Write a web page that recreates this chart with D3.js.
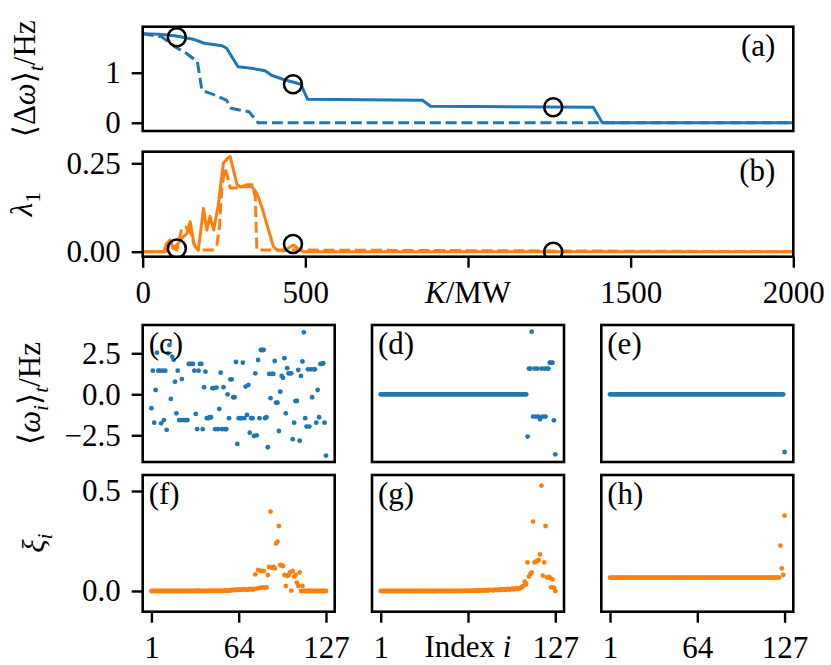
<!DOCTYPE html>
<html>
<head>
<meta charset="utf-8">
<script src="https://cdn.jsdelivr.net/npm/d3@7"></script>
<style>
body { margin: 0; background: #fff; }
svg { display: block; }
</style>
</head>
<body>
<svg width="831" height="665"></svg>
<script>
var blue = "#1f77b4";
var orange = "#ff7f0e";
var font = "'Liberation Serif', 'DejaVu Serif', serif";
var fs = 31;

// (a) <dw>_t against K, solid and dashed runs
var kOmega = [0, 50, 99, 155, 189, 244, 258, 293, 334, 376, 396, 431, 486, 507, 860, 885, 1385, 1413, 2000];
var omegaSolid = [1.78, 1.77, 1.74, 1.67, 1.59, 1.54, 1.49, 1.12, 1.09, 1.04, 0.95, 0.87, 0.77, 0.47, 0.45, 0.33, 0.31, 0, 0];
var kOmegaDash = [0, 58, 99, 134, 168, 182, 224, 258, 272, 327, 355, 2000];
var omegaDash = [1.78, 1.72, 1.52, 1.39, 1.22, 0.65, 0.55, 0.45, 0.29, 0.22, 0, 0];

// (b) lambda_1 against K
var kLambda = [0, 64, 74, 84, 94, 105, 120, 136, 146, 158, 171, 187, 197, 207, 218, 232, 248, 261, 269, 290, 300, 336, 351, 366, 402, 413, 433, 464, 479, 494, 2000];
var lambdaSolid = [0, 0, 0.024, 0.033, 0.010, 0.019, 0.038, 0.052, 0.085, 0.020, 0.004, 0.123, 0.061, 0.100, 0.061, 0.130, 0.250, 0.264, 0.269, 0.189, 0.184, 0.184, 0.165, 0.127, 0.014, 0.005, 0.002, 0.019, 0.007, 0, 0];
var kLambdaDash = [0, 70, 80, 95, 105, 120, 131, 146, 161, 176, 192, 215, 228, 236, 243, 253, 261, 269, 290, 320, 336, 346, 351, 2000];
var lambdaDash = [0, 0, 0.014, 0.010, 0.005, 0.066, 0.070, 0.057, 0.014, 0.005, 0.005, 0.005, 0.019, 0.070, 0.180, 0.236, 0.212, 0.180, 0.180, 0.189, 0.189, 0.156, 0.005, 0];

// the three K values shown below
var kMark = [105, 462, 1262];
var omegaMark = [1.71, 0.77, 0.31];
var lambdaMark = [0.009, 0.022, 0];

var kTicks = [0, 500, 1000, 1500, 2000];
var idxTicks = [1, 64, 127];

// (c)(d)(e) <w_i>_t per node
var omegaC = [
  -0.85, 1.44, -1.73, 0.26, 2.54, 1.44, 1.44, -1.77, 1.44, -1.57,
  1.44, -2.17, 2.50, 3.00, -0.28, 2.30, 2.10, 0.77, -1.16, 1.44,
  -1.57, -1.57, 0.93, -1.57, -1.57, -1.57, -1.57, 1.85, 1.85, 1.85,
  1.85, 1.44, -1.20, -2.13, 1.44, 1.85, 1.85, -2.13, 0.43, 1.38,
  -1.46, -1.46, -1.40, -1.40, 0.37, 0.37, -2.13, 0.41, -2.13, -0.89,
  1.32, -2.13, 0.43, -2.13, -2.13, 0.00, -1.46, 0.91, 0.91, -0.18,
  -0.18, 1.97, -3.03, -1.46, -1.46, -1.46, 1.93, -1.46, 0.47, -1.26,
  0.57, -2.34, -1.46, -1.46, -2.54, 1.28, -2.50, 2.09, -1.46, 2.70,
  2.70, 2.70, -1.46, -1.40, -3.23, 1.24, -0.24, 1.24, 1.24, 2.03,
  -0.51, -0.51, -2.24, 0.16, 1.12, 1.00, 2.20, -1.16, 1.59, 1.28,
  1.28, 1.28, -2.74, -1.73, -0.41, -0.41, 1.48, -2.83, 1.12, 2.00,
  3.78, -1.46, -1.97, 1.52, -1.97, 1.52, -0.18, 1.52, 1.52, -1.73,
  0.26, -1.40, 1.85, 1.85, 1.90, -1.73, -3.74
];
var omegaD = [
  0, 0, 0, 0, 0, 0, 0, 0, 0, 0, 0, 0, 0, 0, 0, 0, 0, 0, 0, 0,
  0, 0, 0, 0, 0, 0, 0, 0, 0, 0, 0, 0, 0, 0, 0, 0, 0, 0, 0, 0,
  0, 0, 0, 0, 0, 0, 0, 0, 0, 0, 0, 0, 0, 0, 0, 0, 0, 0, 0, 0,
  0, 0, 0, 0, 0, 0, 0, 0, 0, 0, 0, 0, 0, 0, 0, 0, 0, 0, 0, 0,
  0, 0, 0, 0, 0, 0, 0, 0, 0, 0, 0, 0, 0, 0, 0, 0, 0, 0, 0, 0,
  0, 0, 0, 0, 0, 0,
  -2.58, 1.57, 1.57, 3.82, -1.36, 1.57, -1.36, 1.57, -1.36, -1.52,
  1.57, -1.36, 1.57, -1.36, 1.57, 1.57, 1.93, 1.93, 1.93, -1.59, -3.66
];
var omegaE = [
  0, 0, 0, 0, 0, 0, 0, 0, 0, 0, 0, 0, 0, 0, 0, 0, 0, 0, 0, 0,
  0, 0, 0, 0, 0, 0, 0, 0, 0, 0, 0, 0, 0, 0, 0, 0, 0, 0, 0, 0,
  0, 0, 0, 0, 0, 0, 0, 0, 0, 0, 0, 0, 0, 0, 0, 0, 0, 0, 0, 0,
  0, 0, 0, 0, 0, 0, 0, 0, 0, 0, 0, 0, 0, 0, 0, 0, 0, 0, 0, 0,
  0, 0, 0, 0, 0, 0, 0, 0, 0, 0, 0, 0, 0, 0, 0, 0, 0, 0, 0, 0,
  0, 0, 0, 0, 0, 0, 0, 0, 0, 0, 0, 0, 0, 0, 0, 0, 0, 0, 0, 0,
  0, 0, 0, 0, 0, 0, -3.52
];

// (f)(g)(h) xi_i per node
var xiF = [
  0, 0, 0, 0, 0, 0, 0, 0, 0, 0, 0, 0, 0, 0, 0, 0, 0, 0, 0, 0,
  0, 0, 0.001, 0, 0, 0.001, 0, 0, 0, 0.001, 0, 0, 0.001, 0, 0.002, 0, 0.001, 0, 0, 0.001,
  0.001, 0, 0.002, 0.001, 0, 0.002, 0.001, 0.001, 0.002, 0, 0.001, 0.002, 0.001, 0.003, 0.002, 0.001, 0.003, 0.002, 0.004, 0.005,
  0.006, 0.005, 0.007, 0.006, 0.008, 0.006, 0.007, 0.009, 0.008, 0.006, 0.008, 0.010, 0.009, 0.007, 0.010,
  0.083, 0.012, 0.105, 0.015, 0.100, 0.018, 0.100, 0.017, 0.018, 0.080,
  0.120, 0.397, 0.117, 0.120, 0.113, 0.238, 0.247, 0.325, 0.130, 0.128,
  0.125, 0.080, 0.025, 0.075, 0.080, 0.093, 0.002, 0.100, 0.072, 0.080,
  0.042, 0.025, 0.093, 0.000, 0.025,
  0, 0, 0, 0, 0, 0, 0, 0, 0, 0, 0, 0, 0, 0, 0, 0, 0
];
var xiG = [
  0, 0, 0, 0, 0, 0, 0, 0, 0, 0, 0, 0, 0, 0, 0, 0, 0, 0, 0, 0,
  0, 0, 0, 0, 0, 0, 0, 0, 0, 0, 0, 0, 0, 0, 0, 0, 0, 0, 0, 0,
  0, 0, 0.001, 0, 0, 0.001, 0, 0, 0.001, 0, 0, 0.001, 0, 0.001, 0, 0.001, 0, 0.001, 0.001, 0,
  0.001, 0.002, 0.001, 0.001, 0.002, 0.001, 0.002, 0.002, 0.001, 0.002, 0.002, 0.003, 0.002, 0.002, 0.003,
  0.003, 0.004, 0.002, 0.005, 0.004, 0.006, 0.003, 0.005, 0.007, 0.004,
  0.006, 0.008, 0.005, 0.007, 0.009, 0.006, 0.008, 0.010, 0.007, 0.009,
  0.012, 0.008, 0.011, 0.014, 0.010, 0.013, 0.016,
  0.020, 0.025, 0.047, 0.035, 0.143, 0.072, 0.085, 0.093, 0.347, 0.143,
  0.147, 0.150, 0.155, 0.183, 0.527, 0.077, 0.143, 0.325, 0.068, 0.070,
  0.068, 0.018, 0.058, 0.017, 0.000
];
var xiH = [
  0.067, 0.067, 0.067, 0.067, 0.067, 0.067, 0.067, 0.067, 0.067, 0.067, 0.067, 0.067, 0.067, 0.067, 0.067, 0.067, 0.067, 0.067, 0.067, 0.067,
  0.067, 0.067, 0.067, 0.067, 0.067, 0.067, 0.067, 0.067, 0.067, 0.067, 0.067, 0.067, 0.067, 0.067, 0.067, 0.067, 0.067, 0.067, 0.067, 0.067,
  0.067, 0.067, 0.067, 0.067, 0.067, 0.067, 0.067, 0.067, 0.067, 0.067, 0.067, 0.067, 0.067, 0.067, 0.067, 0.067, 0.067, 0.067, 0.067, 0.067,
  0.067, 0.067, 0.067, 0.067, 0.067, 0.067, 0.067, 0.067, 0.067, 0.067, 0.067, 0.067, 0.067, 0.067, 0.067, 0.067, 0.067, 0.067, 0.067, 0.067,
  0.067, 0.067, 0.067, 0.067, 0.067, 0.067, 0.067, 0.067, 0.067, 0.067, 0.067, 0.067, 0.067, 0.067, 0.067, 0.067, 0.067, 0.067, 0.067, 0.067,
  0.067, 0.067, 0.067, 0.067, 0.067, 0.067, 0.067, 0.067, 0.067, 0.067, 0.067, 0.067, 0.067, 0.067, 0.067, 0.067, 0.067, 0.067, 0.067, 0.067,
  0.067, 0.067, 0.067,
  0.227, 0.113, 0.080, 0.377
];

var svg = d3.select("svg");
var clipCount = 0;

function makePanel(x0, y0, w, h) {
  var id = "clip" + (clipCount++);
  svg.append("clipPath").attr("id", id)
    .append("rect").attr("x", x0).attr("y", y0).attr("width", w).attr("height", h);
  var g = svg.append("g");
  return { g: g, plot: g.append("g").attr("clip-path", "url(#" + id + ")"), x0: x0, y0: y0, w: w, h: h };
}

function frame(p) {
  p.g.append("rect")
    .attr("x", p.x0).attr("y", p.y0).attr("width", p.w).attr("height", p.h)
    .attr("fill", "none").attr("stroke", "#000").attr("stroke-width", 2.6);
}

function styleAxis(sel) {
  sel.attr("font-family", font).attr("font-size", fs);
  sel.select(".domain").remove();
  sel.selectAll(".tick line").attr("stroke", "#000").attr("stroke-width", 2.4);
  sel.selectAll(".tick text").attr("fill", "#000");
}

function panelLabel(p, txt, right) {
  p.g.append("text")
    .attr("x", right ? p.x0 + p.w - 18 : p.x0 + 6)
    .attr("y", p.y0 + 29)
    .attr("text-anchor", right ? "end" : "start")
    .attr("font-family", font).attr("font-size", fs)
    .text(txt);
}

// ---------- top panels ----------
var left = 142.7, right = 793.3;
var x = d3.scaleLinear().domain([0, 2000]).range([left, right]);

var pa = makePanel(left, 26.7, right - left, 104.3);
var ya = d3.scaleLinear().domain([-0.164, 1.92]).range([131, 26.7]);
var pb = makePanel(left, 151.7, right - left, 105);
var yb = d3.scaleLinear().domain([-0.0141, 0.2828]).range([256.7, 151.7]);

function drawLine(p, xs, ys, yScale, color, dashed) {
  var line = d3.line().x(function(d) { return x(d[0]); }).y(function(d) { return yScale(d[1]); });
  p.plot.append("path")
    .datum(d3.zip(xs, ys))
    .attr("d", line)
    .attr("fill", "none")
    .attr("stroke", color)
    .attr("stroke-width", 3)
    .attr("stroke-linejoin", "round")
    .attr("stroke-dasharray", dashed ? "11,4.8" : null);
}

drawLine(pa, kOmegaDash, omegaDash, ya, blue, true);
drawLine(pa, kOmega, omegaSolid, ya, blue, false);
drawLine(pb, kLambdaDash, lambdaDash, yb, orange, true);
drawLine(pb, kLambda, lambdaSolid, yb, orange, false);

pa.plot.selectAll("circle.mark").data(d3.zip(kMark, omegaMark)).enter().append("circle")
  .attr("cx", function(d) { return x(d[0]); })
  .attr("cy", function(d) { return ya(d[1]); })
  .attr("r", 9).attr("fill", "none").attr("stroke", "#000").attr("stroke-width", 2.6);
pb.plot.selectAll("circle.mark").data(d3.zip(kMark, lambdaMark)).enter().append("circle")
  .attr("cx", function(d) { return x(d[0]); })
  .attr("cy", function(d) { return yb(d[1]); })
  .attr("r", 9).attr("fill", "none").attr("stroke", "#000").attr("stroke-width", 2.6);

pa.g.append("g").attr("transform", "translate(" + left + ",0)")
  .call(d3.axisLeft(ya).tickValues([0, 1]).tickFormat(d3.format("d")).tickSize(11).tickPadding(11))
  .call(styleAxis);
pb.g.append("g").attr("transform", "translate(" + left + ",0)")
  .call(d3.axisLeft(yb).tickValues([0, 0.25]).tickFormat(d3.format(".2f")).tickSize(11).tickPadding(11))
  .call(styleAxis);
pb.g.append("g").attr("transform", "translate(0,256.7)")
  .call(d3.axisBottom(x).tickValues(kTicks).tickFormat(function(d) { return d === 1000 ? "" : d; }).tickSize(11).tickPadding(13))
  .call(styleAxis);

frame(pa);
frame(pb);
panelLabel(pa, "(a)", true);
panelLabel(pb, "(b)", true);

// x label of the top block sits where the 1000 tick label would be
var kl = svg.append("text")
  .attr("x", x(1000)).attr("y", 303)
  .attr("text-anchor", "middle")
  .attr("font-family", font).attr("font-size", fs);
kl.append("tspan").attr("font-style", "italic").text("K");
kl.append("tspan").text("/MW");

// ---------- bottom grid ----------
var colW = 192, colGap = 37.3;
var rowC = [325, 462], rowF = [475, 611.7];
var yc = d3.scaleLinear().domain([-4.13, 4.226]).range([rowC[1], rowC[0]]);
var yf = d3.scaleLinear().domain([-0.1035, 0.58]).range([rowF[1], rowF[0]]);

var seriesTop = [omegaC, omegaD, omegaE];
var seriesBot = [xiF, xiG, xiH];
var labelsTop = ["(c)", "(d)", "(e)"];
var labelsBot = ["(f)", "(g)", "(h)"];

for (var c = 0; c < 3; c++) {
  var x0 = left + c * (colW + colGap);
  var xi = d3.scaleLinear().domain([-5.3, 133.3]).range([x0, x0 + colW]);

  var pt = makePanel(x0, rowC[0], colW, rowC[1] - rowC[0]);
  pt.plot.selectAll("circle").data(seriesTop[c]).enter().append("circle")
    .attr("cx", function(d, i) { return xi(i + 1); })
    .attr("cy", function(d) { return yc(d); })
    .attr("r", 2.4).attr("fill", blue);
  frame(pt);
  panelLabel(pt, labelsTop[c], false);

  var pf = makePanel(x0, rowF[0], colW, rowF[1] - rowF[0]);
  pf.plot.selectAll("circle").data(seriesBot[c]).enter().append("circle")
    .attr("cx", function(d, i) { return xi(i + 1); })
    .attr("cy", function(d) { return yf(d); })
    .attr("r", 2.4).attr("fill", orange);
  var mid = c === 1;
  pf.g.append("g").attr("transform", "translate(0," + rowF[1] + ")")
    .call(d3.axisBottom(xi).tickValues(idxTicks).tickFormat(function(d) { return mid && d === 64 ? "" : d; }).tickSize(11).tickPadding(13))
    .call(styleAxis);
  frame(pf);
  panelLabel(pf, labelsBot[c], false);

  if (c === 0) {
    pt.g.append("g").attr("transform", "translate(" + x0 + ",0)")
      .call(d3.axisLeft(yc).tickValues([-2.5, 0, 2.5]).tickFormat(d3.format(".1f")).tickSize(11).tickPadding(11))
      .call(styleAxis);
    pf.g.append("g").attr("transform", "translate(" + x0 + ",0)")
      .call(d3.axisLeft(yf).tickValues([0, 0.5]).tickFormat(d3.format(".1f")).tickSize(11).tickPadding(11))
      .call(styleAxis);
  }
  if (mid) {
    var il = svg.append("text")
      .attr("x", xi(64)).attr("y", 657)
      .attr("text-anchor", "middle")
      .attr("font-family", font).attr("font-size", fs);
    il.append("tspan").text("Index ");
    il.append("tspan").attr("font-style", "italic").text("i");
  }
}

// ---------- y labels (rotated) ----------
function yLabel(bx, cy, parts) {
  var t = svg.append("text")
    .attr("transform", "translate(" + bx + "," + cy + ") rotate(-90)")
    .attr("text-anchor", "middle")
    .attr("font-family", font).attr("font-size", fs);
  parts.forEach(function(p) {
    var s = t.append("tspan").text(p.t);
    if (p.i) s.attr("font-style", "italic");
    if (p.sub) s.attr("font-size", fs * 0.7).attr("dy", 8);
    if (p.back) s.attr("dy", -8);
  });
}

yLabel(35, 78.8, [{ t: "\u27E8\u0394" }, { t: "\u03C9", i: true }, { t: "\u27E9" }, { t: "t", i: true, sub: true }, { t: "/Hz", back: true }]);
yLabel(32, 204, [{ t: "\u03BB", i: true }, { t: "1", sub: true }]);
yLabel(40, 393.5, [{ t: "\u27E8" }, { t: "\u03C9", i: true }, { t: "i", i: true, sub: true }, { t: "\u27E9", back: true }, { t: "t", i: true, sub: true }, { t: "/Hz", back: true }]);
yLabel(44, 543, [{ t: "\u03BE", i: true }, { t: "i", i: true, sub: true }]);
</script>
</body>
</html>
